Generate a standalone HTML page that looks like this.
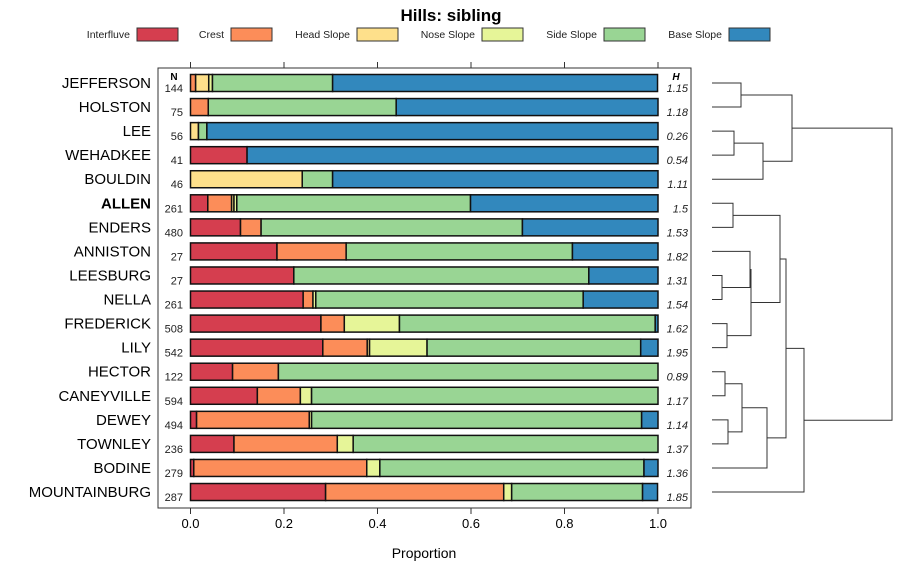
<!DOCTYPE html>
<html><head><meta charset="utf-8"><style>
body{margin:0;background:#fff;}
svg text{font-family:"Liberation Sans",sans-serif;}
</style></head><body>
<svg id="c" width="900" height="580" xmlns="http://www.w3.org/2000/svg">
<text x="451" y="21" text-anchor="middle" font-size="17" font-weight="bold">Hills: sibling</text>
<g id="legend"></g>
<g id="panel"></g>
<g id="dendro"></g>
<text x="424" y="558" text-anchor="middle" font-size="14">Proportion</text>
</svg>
<script>
const classes=["Interfluve","Crest","Head Slope","Nose Slope","Side Slope","Base Slope"];
const colors=["#d53e4f","#fc8d59","#fee08b","#e6f598","#99d594","#3288bd"];
const series=["JEFFERSON","HOLSTON","LEE","WEHADKEE","BOULDIN","ALLEN","ENDERS","ANNISTON","LEESBURG","NELLA","FREDERICK","LILY","HECTOR","CANEYVILLE","DEWEY","TOWNLEY","BODINE","MOUNTAINBURG"];
const nValues=[144,75,56,41,46,261,480,27,27,261,508,542,122,594,494,236,279,287];
const hValues=["1.15","1.18","0.26","0.54","1.11","1.5","1.53","1.82","1.31","1.54","1.62","1.95","0.89","1.17","1.14","1.37","1.36","1.85"];
const interfluve=[0,0,0,0.121,0,0.037,0.107,0.185,0.221,0.241,0.279,0.283,0.09,0.143,0.013,0.093,0.007,0.289];
const crest=[0.011,0.038,0,0,0,0.051,0.044,0.148,0,0.021,0.05,0.095,0.098,0.092,0.241,0.221,0.37,0.381];
const headSlope=[0.028,0,0.017,0,0.239,0.005,0,0,0,0,0,0.005,0,0,0,0,0,0];
const noseSlope=[0.008,0,0,0,0,0.006,0,0,0,0.006,0.118,0.123,0,0.024,0.005,0.034,0.028,0.017];
const sideSlope=[0.257,0.402,0.018,0,0.065,0.5,0.559,0.484,0.631,0.572,0.547,0.457,0.812,0.741,0.706,0.652,0.565,0.28];
const baseSlope=[0.695,0.56,0.965,0.879,0.696,0.401,0.29,0.183,0.148,0.16,0.006,0.037,0,0,0.035,0,0.03,0.032];
const xTicks=[0,0.2,0.4,0.6,0.8,1.0];
const xTickLabels=["0.0","0.2","0.4","0.6","0.8","1.0"];
const merges=[[0,1,741],[2,3,734],[19,4,763],[18,20,792],[5,6,733],[8,9,722],[7,23,750],[10,11,727],[24,25,751],[22,26,780],[12,13,725],[14,15,728],[28,29,742],[30,16,767],[27,31,786],[32,17,804],[21,33,892]];

const NS="http://www.w3.org/2000/svg";
function mk(p,t,a){const e=document.createElementNS(NS,t);for(const k in a)e.setAttribute(k,a[k]);p.appendChild(e);return e;}
const x0=190.5,x1=658,yTop=83,step=24.06,barH=17;
const xs=v=>x0+v*(x1-x0);
const ys=i=>yTop+i*step;
const panel=document.getElementById('panel');
let r=mk(panel,'rect',{x:158,y:68,width:533,height:440,fill:'none',stroke:'#333','stroke-width':1});


xTicks.forEach((t,i)=>{
 const x=xs(t);
 let l=mk(panel,'line',{x1:x,x2:x,y1:62,y2:68,stroke:'#333'});
 
 
 l=mk(panel,'line',{x1:x,x2:x,y1:508,y2:514,stroke:'#333'});
 
 
 const tx=mk(panel,'text',{x:x,y:528,'text-anchor':'middle','font-size':13});
 tx.textContent=xTickLabels[i];
 
 
});
let h=mk(panel,'text',{x:174,y:80,'text-anchor':'middle','font-size':10,'font-weight':'bold'});h.textContent='N';


h=mk(panel,'text',{x:676,y:80,'text-anchor':'middle','font-size':10,'font-weight':'bold','font-style':'italic'});h.textContent='H';


const comps=[interfluve,crest,headSlope,noseSlope,sideSlope,baseSlope];
series.forEach((s,i)=>{
 const y=ys(i);
 const lab=mk(panel,'text',{x:151,y:y+5,'text-anchor':'end','font-size':15});
 if(s==='ALLEN')lab.setAttribute('font-weight','bold');
 lab.textContent=s;
 
 
 const nt=mk(panel,'text',{x:183,y:y+9,'text-anchor':'end','font-size':11,fill:'#222'});
 nt.textContent=nValues[i];
 
 
 const ht=mk(panel,'text',{x:688,y:y+9,'text-anchor':'end','font-size':11,'font-style':'italic',fill:'#222'});
 ht.textContent=hValues[i];
 
 
 let cum=0;
 comps.forEach((arr,k)=>{
  const v=arr[i]; if(v<=0)return;
  const b=mk(panel,'rect',{x:xs(cum),y:y-barH/2,width:xs(cum+v)-xs(cum),height:barH,fill:colors[k],stroke:'#111','stroke-width':1.5});
  
  
  cum+=v;
 });
});
const legend=document.getElementById('legend');
const boxX=[137,231,357,482,604,729];
classes.forEach((c,k)=>{
 const t=mk(legend,'text',{x:boxX[k]-7,y:38,'text-anchor':'end','font-size':10.5,fill:'#222'});
 t.textContent=c;
 
 
 const b=mk(legend,'rect',{x:boxX[k],y:28,width:41,height:13,fill:colors[k],stroke:'#333'});
 
 
});
const dendro=document.getElementById('dendro');
const nodeX={},nodeY={};
for(let i=0;i<series.length;i++){nodeX[i]=712;nodeY[i]=ys(i);}
merges.forEach((m,j)=>{
 const id=series.length+j,[a,b,hx]=m;
 nodeX[id]=hx;nodeY[id]=(nodeY[a]+nodeY[b])/2;
 const p=mk(dendro,'path',{d:`M${nodeX[a]},${nodeY[a]}H${hx}V${nodeY[b]}H${nodeX[b]}`,fill:'none',stroke:'#333','stroke-width':1});
 
 
});
</script>
</body></html>
